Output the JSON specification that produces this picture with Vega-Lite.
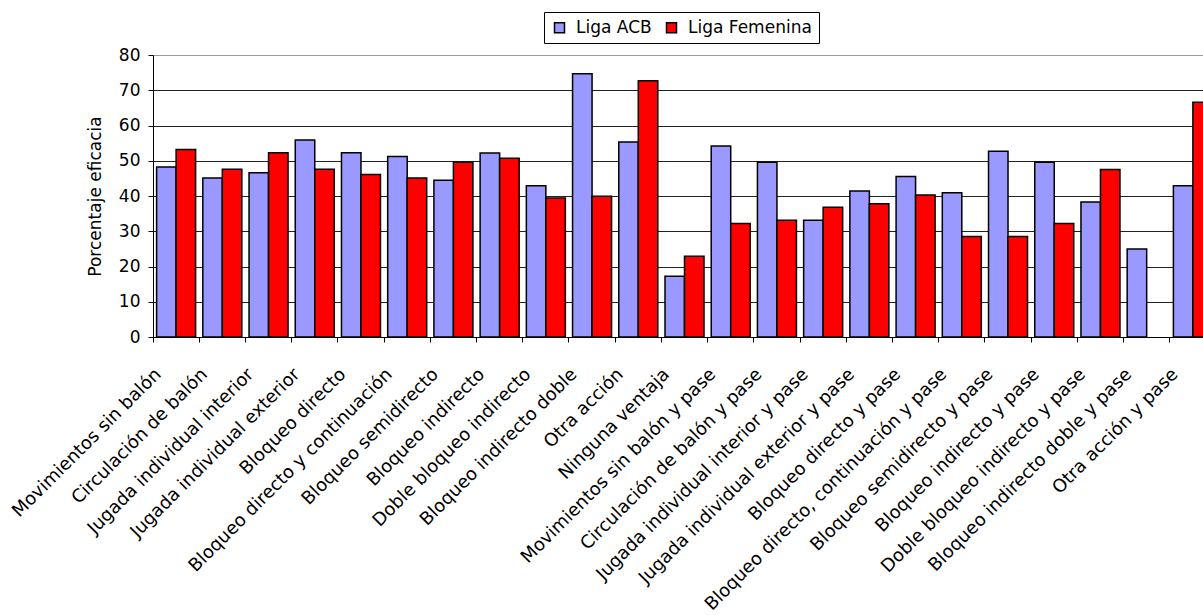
{
  "$schema": "https://vega.github.io/schema/vega-lite/v6.json",
  "autosize": {"type": "none"},
  "padding": {"left": 153, "top": 55, "right": 0, "bottom": 278},
  "width": 1050,
  "height": 282,
  "config": {
    "font": "DejaVu Sans",
    "view": {"stroke": null},
    "axis": {"labelFont": "DejaVu Sans", "titleFont": "DejaVu Sans", "labelColor": "black", "titleColor": "black"},
    "legend": {"labelFont": "DejaVu Sans"}
  },
  "data": {
    "values": [
      {"cat": "Movimientos sin balón", "liga": "Liga ACB", "value": 48.2},
      {"cat": "Movimientos sin balón", "liga": "Liga Femenina", "value": 53.2},
      {"cat": "Circulación de balón", "liga": "Liga ACB", "value": 45.1},
      {"cat": "Circulación de balón", "liga": "Liga Femenina", "value": 47.6},
      {"cat": "Jugada individual interior", "liga": "Liga ACB", "value": 46.6},
      {"cat": "Jugada individual interior", "liga": "Liga Femenina", "value": 52.3},
      {"cat": "Jugada individual exterior", "liga": "Liga ACB", "value": 55.9},
      {"cat": "Jugada individual exterior", "liga": "Liga Femenina", "value": 47.6},
      {"cat": "Bloqueo directo", "liga": "Liga ACB", "value": 52.3},
      {"cat": "Bloqueo directo", "liga": "Liga Femenina", "value": 46.1},
      {"cat": "Bloqueo directo y continuación", "liga": "Liga ACB", "value": 51.2},
      {"cat": "Bloqueo directo y continuación", "liga": "Liga Femenina", "value": 45.1},
      {"cat": "Bloqueo semidirecto", "liga": "Liga ACB", "value": 44.5},
      {"cat": "Bloqueo semidirecto", "liga": "Liga Femenina", "value": 49.6},
      {"cat": "Bloqueo indirecto", "liga": "Liga ACB", "value": 52.2},
      {"cat": "Bloqueo indirecto", "liga": "Liga Femenina", "value": 50.7},
      {"cat": "Doble bloqueo indirecto", "liga": "Liga ACB", "value": 42.9},
      {"cat": "Doble bloqueo indirecto", "liga": "Liga Femenina", "value": 39.4},
      {"cat": "Bloqueo indirecto doble", "liga": "Liga ACB", "value": 74.7},
      {"cat": "Bloqueo indirecto doble", "liga": "Liga Femenina", "value": 39.9},
      {"cat": "Otra acción", "liga": "Liga ACB", "value": 55.3},
      {"cat": "Otra acción", "liga": "Liga Femenina", "value": 72.7},
      {"cat": "Ninguna ventaja", "liga": "Liga ACB", "value": 17.2},
      {"cat": "Ninguna ventaja", "liga": "Liga Femenina", "value": 22.9},
      {"cat": "Movimientos sin balón y pase", "liga": "Liga ACB", "value": 54.2},
      {"cat": "Movimientos sin balón y pase", "liga": "Liga Femenina", "value": 32.2},
      {"cat": "Circulación de balón y pase", "liga": "Liga ACB", "value": 49.6},
      {"cat": "Circulación de balón y pase", "liga": "Liga Femenina", "value": 33.1},
      {"cat": "Jugada individual interior y pase", "liga": "Liga ACB", "value": 33.1},
      {"cat": "Jugada individual interior y pase", "liga": "Liga Femenina", "value": 36.8},
      {"cat": "Jugada individual exterior y pase", "liga": "Liga ACB", "value": 41.4},
      {"cat": "Jugada individual exterior y pase", "liga": "Liga Femenina", "value": 37.8},
      {"cat": "Bloqueo directo y pase", "liga": "Liga ACB", "value": 45.5},
      {"cat": "Bloqueo directo y pase", "liga": "Liga Femenina", "value": 40.3},
      {"cat": "Bloqueo directo, continuación y pase", "liga": "Liga ACB", "value": 40.9},
      {"cat": "Bloqueo directo, continuación y pase", "liga": "Liga Femenina", "value": 28.5},
      {"cat": "Bloqueo semidirecto y pase", "liga": "Liga ACB", "value": 52.7},
      {"cat": "Bloqueo semidirecto y pase", "liga": "Liga Femenina", "value": 28.5},
      {"cat": "Bloqueo indirecto y pase", "liga": "Liga ACB", "value": 49.6},
      {"cat": "Bloqueo indirecto y pase", "liga": "Liga Femenina", "value": 32.2},
      {"cat": "Doble bloqueo indirecto y pase", "liga": "Liga ACB", "value": 38.3},
      {"cat": "Doble bloqueo indirecto y pase", "liga": "Liga Femenina", "value": 47.5},
      {"cat": "Bloqueo indirecto doble y pase", "liga": "Liga ACB", "value": 25.0},
      {"cat": "Otra acción y pase", "liga": "Liga ACB", "value": 42.9},
      {"cat": "Otra acción y pase", "liga": "Liga Femenina", "value": 66.6}
    ]
  },
  "mark": {"type": "bar", "stroke": "black", "strokeWidth": 1.5, "clip": true},
  "encoding": {
    "x": {
      "field": "cat",
      "type": "nominal",
      "sort": null,
      "scale": {"paddingInner": 0, "paddingOuter": 0, "range": [0, 1063]},
      "axis": {
        "title": null,
        "bandPosition": 0,
        "labelAngle": -45,
        "labelAlign": "right",
        "labelBaseline": "top",
        "labelOffset": -24,
        "labelPadding": 23,
        "labelFontSize": 18,
        "labelLimit": 500,
        "labelOverlap": false,
        "tickSize": 5,
        "tickColor": "black",
        "domainColor": "black",
        "grid": false
      }
    },
    "xOffset": {
      "field": "liga",
      "sort": ["Liga ACB", "Liga Femenina"],
      "scale": {"paddingOuter": 0.185, "paddingInner": 0}
    },
    "y": {
      "field": "value",
      "type": "quantitative",
      "scale": {"domain": [0, 80]},
      "axis": {
        "title": "Porcentaje eficacia",
        "titleFontSize": 17,
        "titleFontWeight": "normal",
        "titlePadding": 14,
        "labelFontSize": 17,
        "labelPadding": 8,
        "labelOverlap": false,
        "values": [0, 10, 20, 30, 40, 50, 60, 70, 80],
        "tickSize": 5,
        "tickColor": "black",
        "domainColor": "black",
        "grid": true,
        "gridColor": {"condition": {"test": "datum.value === 80", "value": "#999999"}, "value": "#222222"},
        "gridOpacity": 1
      }
    },
    "color": {
      "field": "liga",
      "type": "nominal",
      "scale": {"domain": ["Liga ACB", "Liga Femenina"], "range": ["#9999FF", "#FF0000"]},
      "legend": {
        "title": null,
        "orient": "none",
        "legendX": 391,
        "legendY": -43,
        "direction": "horizontal",
        "strokeColor": "black",
        "padding": 7,
        "labelFontSize": 17,
        "labelColor": "black",
        "symbolType": "square",
        "symbolSize": 100,
        "symbolStrokeColor": "black",
        "symbolStrokeWidth": 1.5,
        "symbolOpacity": 1,
        "columnPadding": 11,
        "labelOffset": 8
      }
    }
  }
}
